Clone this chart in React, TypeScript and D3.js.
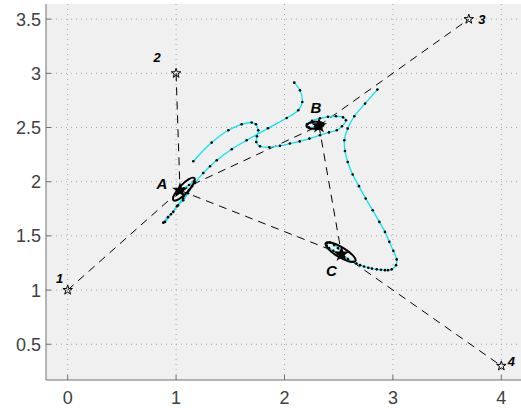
import React, { useEffect, useRef } from "react";
import * as d3 from "d3";

// anchors (open stars) and estimated nodes
const anchorNames = ["1", "2", "3", "4"];
const anchorX = [0, 1, 3.7, 4];
const anchorY = [1, 3, 3.5, 0.3];

const nodeNames = ["A", "B", "C"];
const nodeX = [1.036, 2.318, 2.526];
const nodeY = [1.92, 2.516, 1.332];

const links = [
  ["1", "A"],
  ["2", "A"],
  ["A", "B"],
  ["B", "3"],
  ["A", "C"],
  ["C", "4"],
  ["B", "C"],
];

// error ellipses around the nodes
const ellipseX = [1.072, 2.281, 2.517];
const ellipseY = [1.931, 2.521, 1.35];
const ellipseMajor = [0.14, 0.08, 0.16];
const ellipseMinor = [0.042, 0.032, 0.046];
const ellipseAngle = [47, 5, -31];

// iteration tracks
const trackAx = [2.09, 2.143, 2.164, 2.127, 2.02, 1.848, 1.651, 1.513, 1.375, 1.313, 1.251, 1.174, 1.119, 1.064, 1.008, 0.953, 0.898, 0.882, 0.925, 0.974, 1.018, 1.066, 1.11, 1.147, 1.165, 1.12, 1.07, 1.036];
const trackAy = [2.914, 2.843, 2.735, 2.659, 2.588, 2.493, 2.382, 2.3, 2.198, 2.143, 2.081, 1.989, 1.922, 1.848, 1.774, 1.7, 1.629, 1.622, 1.673, 1.722, 1.783, 1.829, 1.894, 1.959, 2.005, 1.97, 1.94, 1.92];

const trackBx = [1.159, 1.328, 1.482, 1.605, 1.697, 1.737, 1.758, 1.746, 1.74, 1.774, 1.86, 1.958, 2.05, 2.14, 2.23, 2.327, 2.41, 2.482, 2.53, 2.567, 2.54, 2.475, 2.401, 2.327, 2.254, 2.208, 2.226, 2.282, 2.318];
const trackBy = [2.189, 2.361, 2.475, 2.53, 2.546, 2.53, 2.475, 2.419, 2.367, 2.327, 2.318, 2.332, 2.352, 2.372, 2.398, 2.429, 2.455, 2.475, 2.512, 2.567, 2.594, 2.604, 2.599, 2.585, 2.562, 2.53, 2.502, 2.507, 2.516];

const trackCx = [2.857, 2.743, 2.644, 2.583, 2.552, 2.558, 2.583, 2.629, 2.687, 2.749, 2.814, 2.875, 2.927, 2.967, 3.004, 3.035, 3.029, 2.989, 2.955, 2.927, 2.89, 2.851, 2.807, 2.773, 2.734, 2.697, 2.664, 2.635, 2.586, 2.542, 2.494, 2.45, 2.411, 2.389, 2.392, 2.42, 2.457, 2.494, 2.526];
const trackCy = [2.85, 2.721, 2.604, 2.49, 2.382, 2.284, 2.182, 2.066, 1.959, 1.845, 1.737, 1.629, 1.537, 1.445, 1.362, 1.283, 1.23, 1.191, 1.184, 1.184, 1.187, 1.191, 1.198, 1.206, 1.217, 1.23, 1.244, 1.261, 1.286, 1.313, 1.336, 1.362, 1.387, 1.408, 1.433, 1.438, 1.415, 1.387, 1.332];

const xTicks = [0, 1, 2, 3, 4];
const yTicks = [0.5, 1, 1.5, 2, 2.5, 3, 3.5];

// label offsets in px (layout only)
const anchorLabelDx = [-8, -19, 13, 10];
const anchorLabelDy = [-12, -16, 0, -4];
const nodeLabelDx = [-18, -3, -10];
const nodeLabelDy = [-7, -18, 17];

export default function App() {
  const ref = useRef<SVGSVGElement>(null);

  useEffect(() => {
    const svg = d3.select(ref.current);
    svg.selectAll("*").remove();

    const left = 46, right = 523, top = 4, bottom = 380;
    const x = d3.scaleLinear().domain([-0.2, 4.2]).range([left, right]);
    const y = d3.scaleLinear().domain([0.17, 3.64]).range([bottom, top]);

    svg.append("rect")
      .attr("x", left).attr("y", top)
      .attr("width", right - left).attr("height", bottom - top)
      .attr("fill", "#f0f0f0");

    // grid
    const grid = svg.append("g")
      .attr("stroke", "#a5a5a5")
      .attr("stroke-width", 1)
      .attr("stroke-dasharray", "1,4");
    grid.selectAll(".gx").data(xTicks).enter().append("line")
      .attr("x1", (d) => x(d)).attr("x2", (d) => x(d))
      .attr("y1", bottom).attr("y2", top);
    grid.selectAll(".gy").data(yTicks).enter().append("line")
      .attr("y1", (d) => y(d)).attr("y2", (d) => y(d))
      .attr("x1", left).attr("x2", right);

    // axes
    const axisColor = "#707070";
    svg.append("line").attr("x1", left).attr("x2", left)
      .attr("y1", top).attr("y2", bottom).attr("stroke", axisColor);
    svg.append("line").attr("x1", left).attr("x2", right)
      .attr("y1", bottom).attr("y2", bottom).attr("stroke", axisColor);
    svg.selectAll(".tx").data(xTicks).enter().append("line")
      .attr("x1", (d) => x(d)).attr("x2", (d) => x(d))
      .attr("y1", bottom).attr("y2", bottom - 5).attr("stroke", axisColor);
    svg.selectAll(".ty").data(yTicks).enter().append("line")
      .attr("y1", (d) => y(d)).attr("y2", (d) => y(d))
      .attr("x1", left).attr("x2", left + 5).attr("stroke", axisColor);

    const font = "'Liberation Sans', Arial, sans-serif";
    svg.selectAll(".xl").data(xTicks).enter().append("text")
      .attr("x", (d) => x(d)).attr("y", 404)
      .attr("text-anchor", "middle")
      .attr("font-family", font).attr("font-size", 18).attr("fill", "#404040")
      .text((d) => d3.format("")(d));
    svg.selectAll(".yl").data(yTicks).enter().append("text")
      .attr("x", 41).attr("y", (d) => y(d) + 6.5)
      .attr("text-anchor", "end")
      .attr("font-family", font).attr("font-size", 18).attr("fill", "#404040")
      .text((d) => d3.format("")(d));

    // dashed links
    const pos = (name: string): [number, number] => {
      const ai = anchorNames.indexOf(name);
      if (ai >= 0) return [x(anchorX[ai]), y(anchorY[ai])];
      const ni = nodeNames.indexOf(name);
      return [x(nodeX[ni]), y(nodeY[ni])];
    };
    svg.append("g").selectAll("line").data(links).enter().append("line")
      .attr("x1", (d) => pos(d[0])[0]).attr("y1", (d) => pos(d[0])[1])
      .attr("x2", (d) => pos(d[1])[0]).attr("y2", (d) => pos(d[1])[1])
      .attr("stroke", "#000").attr("stroke-width", 1)
      .attr("stroke-dasharray", "8,6");

    // tracks
    const line = d3.line<[number, number]>()
      .x((d) => x(d[0])).y((d) => y(d[1]))
      .curve(d3.curveCatmullRom);
    const tracks = [
      d3.zip(trackAx, trackAy),
      d3.zip(trackBx, trackBy),
      d3.zip(trackCx, trackCy),
    ] as [number, number][][];
    tracks.forEach((t) => {
      svg.append("path").attr("d", line(t))
        .attr("fill", "none").attr("stroke", "#00e8f0").attr("stroke-width", 1.3);
    });
    tracks.forEach((t) => {
      svg.append("g").selectAll("circle").data(t).enter().append("circle")
        .attr("cx", (d) => x(d[0])).attr("cy", (d) => y(d[1]))
        .attr("r", 1.3).attr("fill", "#000");
    });

    // error ellipses
    const unit = x(1) - x(0);
    ellipseX.forEach((cx, i) => {
      svg.append("ellipse")
        .attr("cx", 0).attr("cy", 0)
        .attr("rx", ellipseMajor[i] * unit).attr("ry", ellipseMinor[i] * unit)
        .attr("transform", `translate(${x(cx)},${y(ellipseY[i])}) rotate(${-ellipseAngle[i]})`)
        .attr("fill", "none").attr("stroke", "#000").attr("stroke-width", 2);
    });

    // node markers (filled)
    const star = d3.symbol().type(d3.symbolStar);
    svg.selectAll(".node").data(nodeNames).enter().append("path")
      .attr("d", star.size(40)())
      .attr("transform", (d, i) => `translate(${x(nodeX[i])},${y(nodeY[i])})`)
      .attr("fill", "#000").attr("stroke", "#000").attr("stroke-width", 1.5);

    // anchors (open stars)
    svg.selectAll(".anchor").data(anchorNames).enter().append("path")
      .attr("d", star.size(28)())
      .attr("transform", (d, i) => `translate(${x(anchorX[i])},${y(anchorY[i])})`)
      .attr("fill", "none").attr("stroke", "#000").attr("stroke-width", 1);

    svg.selectAll(".al").data(anchorNames).enter().append("text")
      .attr("x", (d, i) => x(anchorX[i]) + anchorLabelDx[i])
      .attr("y", (d, i) => y(anchorY[i]) + anchorLabelDy[i])
      .attr("dy", "0.35em").attr("text-anchor", "middle")
      .attr("font-family", font).attr("font-size", 13)
      .attr("font-weight", "bold").attr("font-style", "italic")
      .text((d) => d);
    svg.selectAll(".nl").data(nodeNames).enter().append("text")
      .attr("x", (d, i) => x(nodeX[i]) + nodeLabelDx[i])
      .attr("y", (d, i) => y(nodeY[i]) + nodeLabelDy[i])
      .attr("dy", "0.35em").attr("text-anchor", "middle")
      .attr("font-family", font).attr("font-size", 15)
      .attr("font-weight", "bold").attr("font-style", "italic")
      .text((d) => d);
  }, []);

  return (
    <svg
      ref={ref}
      width={521}
      height={408}
      style={{ position: "absolute", left: 0, top: 0, background: "#fff" }}
    ></svg>
  );
}
